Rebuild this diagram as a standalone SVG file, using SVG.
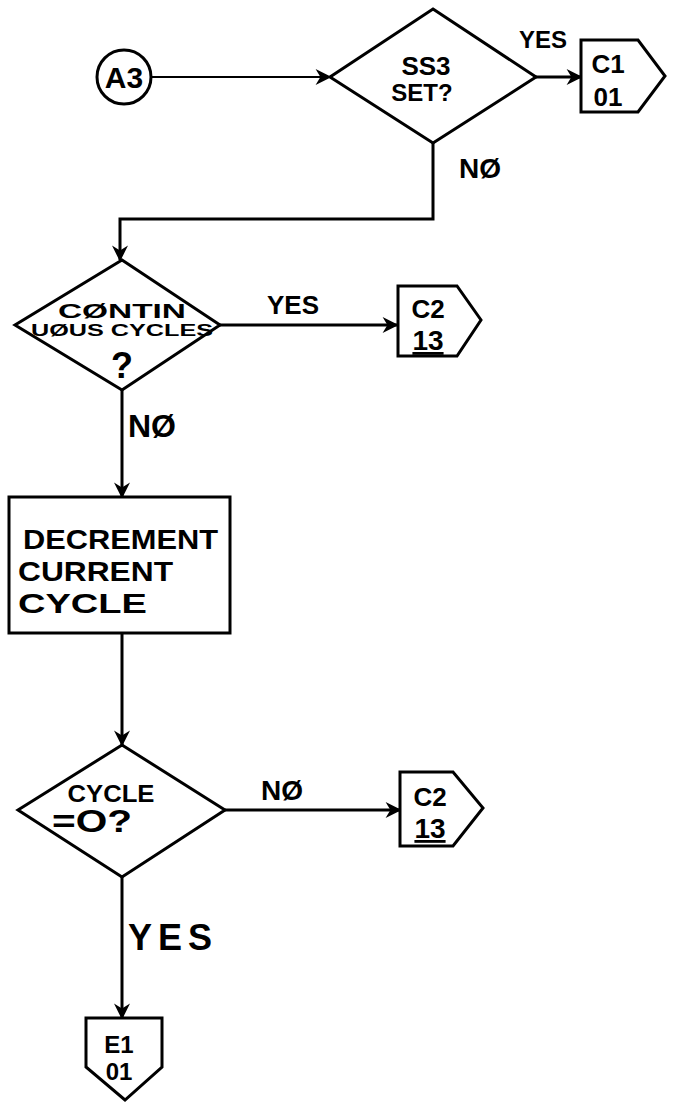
<svg xmlns="http://www.w3.org/2000/svg" width="678" height="1109" viewBox="0 0 678 1109">
<defs>
<style>
.shape{fill:#fff;stroke:#000;stroke-width:3;stroke-linejoin:miter}
.conn{fill:none;stroke:#000;stroke-width:3}
.thin{stroke-width:2}
.t{font-family:"Liberation Sans","DejaVu Sans",sans-serif;font-weight:bold;fill:#000}
.m{text-anchor:middle}
</style>
<marker id="arr" viewBox="0 0 10 10" refX="9" refY="5" markerWidth="18" markerHeight="16" markerUnits="userSpaceOnUse" orient="auto">
<path d="M0,0 L10,5 L0,10 L3,5 z" fill="#000"/>
</marker>
</defs>
<rect width="678" height="1109" fill="#fff"/>
<g id="connectors">
<line class="conn thin" x1="151" y1="77" x2="330" y2="77" marker-end="url(#arr)"/>
<line class="conn" x1="536" y1="77" x2="581" y2="77" marker-end="url(#arr)"/>
<path class="conn" d="M433,143 V219 H120 V260" marker-end="url(#arr)"/>
<line class="conn" x1="220" y1="325" x2="397" y2="325" marker-end="url(#arr)"/>
<line class="conn" x1="122" y1="390" x2="122" y2="497" marker-end="url(#arr)"/>
<line class="conn" x1="122" y1="633" x2="122" y2="745" marker-end="url(#arr)"/>
<line class="conn" x1="225" y1="810" x2="400" y2="810" marker-end="url(#arr)"/>
<line class="conn" x1="122" y1="877" x2="122" y2="1018" marker-end="url(#arr)"/>
<text class="t" x="543" y="48" font-size="24" text-anchor="middle">YES</text>
<text class="t" x="480" y="178" font-size="28" text-anchor="middle">NØ</text>
<text class="t" x="293" y="314" font-size="26" text-anchor="middle">YES</text>
<text class="t" x="128" y="437" font-size="32">NØ</text>
<text class="t" x="282" y="800" font-size="28" text-anchor="middle">NØ</text>
<text class="t" x="128" y="950" font-size="36" letter-spacing="6">YES</text>
</g>
<g id="a3">
<circle class="shape" cx="124" cy="77" r="27"/>
<text class="t m" x="124" y="88" font-size="30">A3</text>
</g>
<g id="ss3">
<polygon class="shape" points="433,9 536,77 433,143 330,77"/>
<text class="t m" x="426" y="75" font-size="26">SS3</text>
<text class="t m" x="422" y="101" font-size="24">SET?</text>
</g>
<g id="c1">
<polygon class="shape" points="581,40 638,40 665,76 638,112 581,112"/>
<text class="t m" x="608" y="73" font-size="26">C1</text>
<text class="t m" x="608" y="106" font-size="26">01</text>
</g>
<g id="continuous">
<polygon class="shape" points="122,260 220,325 122,390 15,325"/>
<text class="t m" x="122" y="318" font-size="20" textLength="128" lengthAdjust="spacingAndGlyphs">CØNTIN</text>
<text class="t m" x="122" y="336" font-size="17" textLength="182" lengthAdjust="spacingAndGlyphs">UØUS CYCLES</text>
<text class="t m" x="122" y="378" font-size="36">?</text>
</g>
<g id="c2a">
<polygon class="shape" points="398,286 457,286 481,320 457,356 398,356"/>
<text class="t m" x="428" y="318" font-size="26">C2</text>
<text class="t m" x="428" y="350" font-size="28" text-decoration="underline">13</text>
</g>
<g id="decrement">
<rect class="shape" x="9" y="497" width="221" height="136"/>
<text class="t" x="23" y="549" font-size="28" textLength="195" lengthAdjust="spacingAndGlyphs">DECREMENT</text>
<text class="t" x="18" y="581" font-size="28" textLength="155" lengthAdjust="spacingAndGlyphs">CURRENT</text>
<text class="t" x="18" y="613" font-size="28" textLength="129" lengthAdjust="spacingAndGlyphs">CYCLE</text>
</g>
<g id="cycle0">
<polygon class="shape" points="122,745 225,810 122,877 18,810"/>
<text class="t m" x="111" y="802" font-size="24" textLength="87" lengthAdjust="spacingAndGlyphs">CYCLE</text>
<text class="t m" x="92" y="832" font-size="32" textLength="80" lengthAdjust="spacingAndGlyphs">=O?</text>
</g>
<g id="c2b">
<polygon class="shape" points="400,772 453,772 483,808 453,846 400,846"/>
<text class="t m" x="430" y="806" font-size="26">C2</text>
<text class="t m" x="430" y="838" font-size="28" text-decoration="underline">13</text>
</g>
<g id="e1">
<polygon class="shape" points="86,1018 162,1018 162,1067 125,1100 86,1067"/>
<text class="t m" x="119" y="1053" font-size="24">E1</text>
<text class="t m" x="119" y="1080" font-size="24">01</text>
</g>
</svg>
